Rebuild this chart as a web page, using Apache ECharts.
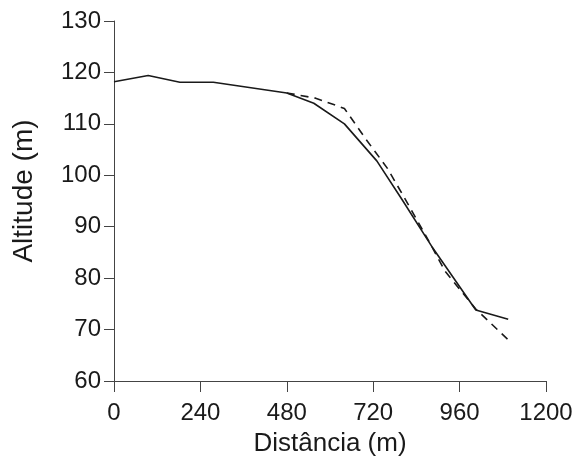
<!DOCTYPE html>
<html>
<head>
<meta charset="utf-8">
<script src="https://cdn.jsdelivr.net/npm/echarts@6/dist/echarts.min.js"></script>
<style>
  html, body { margin: 0; padding: 0; background: #fff; }
  #chart { width: 580px; height: 466px; }
</style>
</head>
<body>
<div id="chart"></div>
<script>
// Longitudinal profile: measured terrain (solid) and fitted profile (dashed)
const xTicks = [0, 240, 480, 720, 960, 1200];
const yTicks = [60, 70, 80, 90, 100, 110, 120, 130];

const terrainDist = [0, 95, 183, 276, 480, 555, 640, 730, 800, 887, 1005, 1095];
const terrainAlt  = [118.2, 119.4, 118.1, 118.1, 116, 114, 110, 102.8, 95.3, 85.7, 73.8, 72];

const fittedDist = [480, 560, 640, 700, 760, 820, 880, 920, 1005, 1095];
const fittedAlt  = [116, 115, 113, 107, 101.3, 94, 86.5, 81.3, 74, 68];

const pairs = (xs, ys) => xs.map((x, i) => [x, ys[i]]);

const font = 'Liberation Sans, Arial, sans-serif';
const ink = '#1a1a1a';

const chart = echarts.init(document.getElementById('chart'), null, { renderer: 'canvas' });
chart.setOption({
  animation: false,
  grid: { left: 114, right: 34, top: 21, bottom: 85, containLabel: false, outerBoundsMode: 'none' },
  xAxis: {
    type: 'value',
    min: xTicks[0], max: xTicks[xTicks.length - 1], interval: 240,
    name: 'Distância (m)', nameLocation: 'middle', nameGap: 50,
    nameTextStyle: { fontFamily: font, fontSize: 26, color: ink },
    axisLine: { lineStyle: { color: '#444', width: 1 } },
    axisTick: { show: true, length: 11, lineStyle: { color: '#444' } },
    axisLabel: { fontFamily: font, fontSize: 24, color: ink, margin: 20,
                 formatter: v => String(v) },
    splitLine: { show: false }
  },
  yAxis: {
    type: 'value',
    min: yTicks[0], max: yTicks[yTicks.length - 1], interval: 10,
    name: 'Altitude (m)', nameLocation: 'middle', nameGap: 76,
    nameTextStyle: { fontFamily: font, fontSize: 28, color: ink, padding: [0, 0, 0, 20] },
    axisLine: { show: true, lineStyle: { color: '#444', width: 1 } },
    axisTick: { show: true, length: 10, lineStyle: { color: '#444' } },
    axisLabel: { fontFamily: font, fontSize: 24, color: ink, margin: 13 },
    splitLine: { show: false }
  },
  series: [
    {
      type: 'line',
      data: pairs(terrainDist, terrainAlt),
      showSymbol: false,
      lineStyle: { color: ink, width: 1.6, type: 'solid' },
      z: 3
    },
    {
      type: 'line',
      data: pairs(fittedDist, fittedAlt),
      showSymbol: false,
      lineStyle: { color: ink, width: 1.6, type: [8, 6] },
      z: 2
    }
  ]
});
</script>
</body>
</html>
